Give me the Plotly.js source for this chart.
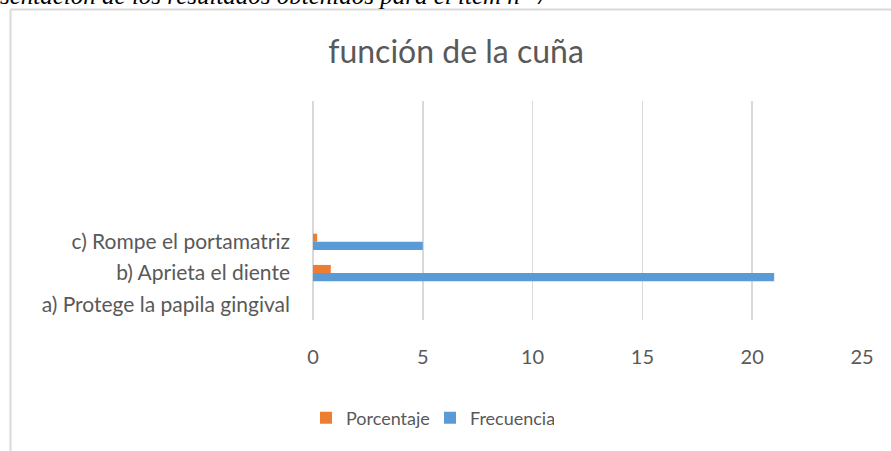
<!DOCTYPE html>
<html>
<head>
<meta charset="utf-8">
<script src="https://cdn.plot.ly/plotly-3.0.1.min.js"></script>
<style>
  html, body { margin: 0; padding: 0; background: #fff; }
  #chart { width: 891px; height: 451px; }
</style>
</head>
<body>
<div id="chart"></div>
<script>
// ---- data ----
const categories = ["a) Protege la papila gingival", "b) Aprieta el diente", "c) Rompe el portamatriz"];
const frecuencia = [0, 21, 5];
const porcentaje = [0, 0.81, 0.19];
const xTickVals = [0, 5, 10, 15, 20, 25];
const chartTitle = "función de la cuña";
const headingText = "sentación de los resultados obtenidos para el ítem n° 7";

// ---- layout geometry ----
const W = 891, H = 451;
const M = { l: 313, r: 29, t: 101, b: 131 };
const pw = W - M.l - M.r, ph = H - M.t - M.b;
const px = x => (x - M.l) / pw;
const py = y => (H - M.b - y) / ph;

const font = "Lato, 'Open Sans', sans-serif";
const textColor = "#595959";

const traces = [
  {
    type: "bar", orientation: "h", name: "Frecuencia",
    y: categories, x: frecuencia,
    marker: { color: "#5B9BD5" }
  },
  {
    type: "bar", orientation: "h", name: "Porcentaje",
    y: categories, x: porcentaje,
    marker: { color: "#ED7D31" }
  }
];

const layout = {
  width: W, height: H,
  margin: M,
  paper_bgcolor: "#ffffff", plot_bgcolor: "#ffffff",
  font: { family: font, color: textColor, size: 18 },
  barmode: "group", bargap: 0.48, bargroupgap: 0,
  title: { text: chartTitle, font: { family: font, size: 32, color: textColor },
           x: 456 / W, xref: "container", xanchor: "center", y: 1 - 52 / H, yref: "container", yanchor: "middle" },
  xaxis: {
    range: [0, 25], tickvals: xTickVals, ticks: "", showline: false,
    showgrid: true, gridcolor: "#d9d9d9", gridwidth: 1.5,
    zeroline: true, zerolinecolor: "#d9d9d9", zerolinewidth: 1.5,
    ticklabelstandoff: 23, tickfont: { size: 20, color: textColor }, fixedrange: true
  },
  yaxis: {
    type: "category", categoryorder: "array", categoryarray: categories,
    range: [-0.5, 6.5], showgrid: false, zeroline: false, showline: false, ticks: "",
    ticklabelstandoff: 22, tickfont: { size: 21, color: textColor }, fixedrange: true
  },
  legend: {
    orientation: "h", traceorder: "reversed",
    x: px(306), xanchor: "left", y: py(418), yanchor: "middle",
    entrywidth: 79, entrywidthmode: "pixels",
    font: { size: 18, color: textColor }, bgcolor: "rgba(0,0,0,0)"
  },
  annotations: [{
    text: headingText, showarrow: false, xref: "paper", yref: "paper",
    x: px(-2), xanchor: "left", y: py(11), yanchor: "bottom",
    font: { family: "'Liberation Serif', 'Times New Roman', serif", size: 25, color: "#000000", style: "italic" }
  }],
  shapes: [
    { type: "line", xref: "paper", yref: "paper", x0: px(10.5), x1: px(10.5), y0: py(9.5), y1: py(460),
      line: { color: "#d9d9d9", width: 2 } },
    { type: "line", xref: "paper", yref: "paper", x0: px(10.5), x1: px(900), y0: py(9.5), y1: py(9.5),
      line: { color: "#d9d9d9", width: 2 } }
  ],
  showlegend: true
};

Plotly.newPlot("chart", traces, layout, { displayModeBar: false, staticPlot: true });
</script>
</body>
</html>
